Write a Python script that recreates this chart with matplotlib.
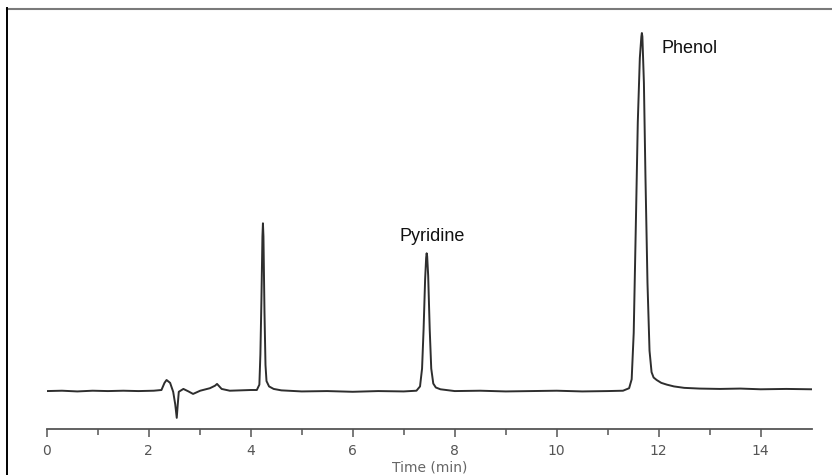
import numpy as np
import matplotlib
matplotlib.use("Agg")
import matplotlib.pyplot as plt
from matplotlib.lines import Line2D
from matplotlib.ticker import FixedLocator

# chromatogram trace (time in min, detector signal, phenol peak = 1)
front_t = [0.0, 0.3, 0.6, 0.9, 1.2, 1.5, 1.8, 2.1]
front_s = [-0.003, -0.002, -0.004, -0.002, -0.003, -0.002, -0.003, -0.002]

upset_t = [2.25, 2.31, 2.35, 2.42, 2.48, 2.52, 2.55, 2.57, 2.59, 2.68,
           2.78, 2.87, 3.01, 3.20, 3.30, 3.34, 3.43, 3.59, 3.8, 4.0]
upset_s = [0.0, 0.02, 0.028, 0.02, -0.005, -0.04, -0.078, -0.04, -0.005, 0.003,
           -0.004, -0.011, -0.002, 0.005, 0.012, 0.017, 0.003, -0.002, -0.001, 0.0]

peak1_t = [4.12, 4.17, 4.19, 4.21, 4.23, 4.24, 4.25, 4.27, 4.29, 4.31, 4.36, 4.45]
peak1_s = [0.0, 0.015, 0.10, 0.25, 0.43, 0.467, 0.43, 0.22, 0.07, 0.025, 0.01, 0.003]

mid1_t = [4.6, 5.0, 5.5, 6.0, 6.5, 7.0, 7.25]
mid1_s = [-0.001, -0.004, -0.003, -0.005, -0.003, -0.004, -0.002]

pyr_t = [7.32, 7.36, 7.39, 7.42, 7.44, 7.45, 7.46, 7.48, 7.51, 7.54, 7.58, 7.63, 7.72]
pyr_s = [0.01, 0.06, 0.17, 0.31, 0.37, 0.383, 0.375, 0.32, 0.17, 0.06, 0.018, 0.007, 0.002]

mid2_t = [8.0, 8.5, 9.0, 9.5, 10.0, 10.5, 11.0, 11.3]
mid2_s = [-0.003, -0.002, -0.004, -0.003, -0.002, -0.004, -0.003, -0.002]

phen_t = [11.42, 11.47, 11.51, 11.55, 11.59, 11.63, 11.66, 11.67, 11.68, 11.71, 11.74, 11.78,
          11.82, 11.86, 11.90, 11.96, 12.05, 12.16, 12.3, 12.5, 12.8]
phen_s = [0.005, 0.03, 0.16, 0.45, 0.75, 0.93, 0.99, 1.0, 0.99, 0.86, 0.6, 0.3,
          0.11, 0.05, 0.035, 0.028, 0.02, 0.015, 0.010, 0.006, 0.004]

tail_t = [13.2, 13.6, 14.0, 14.5, 15.0]
tail_s = [0.003, 0.004, 0.002, 0.003, 0.002]

labels = ["Pyridine", "Phenol"]


def main():
    t = np.concatenate([front_t, upset_t, peak1_t, mid1_t, pyr_t, mid2_t, phen_t, tail_t])
    s = np.concatenate([front_s, upset_s, peak1_s, mid1_s, pyr_s, mid2_s, phen_s, tail_s])

    fig = plt.figure(figsize=(8.32, 4.75), dpi=100)
    ax = fig.add_axes([46.7 / 832, 1 - 429 / 475, 765 / 832, 419 / 475])

    ax.plot(t, s, color="#2e2e2e", lw=1.4, solid_joinstyle="round")

    ax.set_xlim(0, 15)
    ax.set_ylim(-39 / 357, 380 / 357)
    for side in ["top", "right", "left"]:
        ax.spines[side].set_visible(False)
    ax.spines["bottom"].set_color("#555555")
    ax.spines["bottom"].set_linewidth(1.3)
    ax.set_yticks([])
    ax.set_xticks(np.arange(0, 15, 2))
    ax.xaxis.set_minor_locator(FixedLocator(np.arange(1, 15, 2)))
    ax.tick_params(axis="x", which="major", direction="out", length=5.5, width=1.1,
                   color="#555555", labelsize=10, labelcolor="#555555", pad=5)
    ax.tick_params(axis="x", which="minor", direction="out", length=4.5, width=1.1,
                   color="#555555")
    ax.set_xlabel("Time (min)", fontsize=10, color="#666666", labelpad=2)

    ax.text(7.555, 0.418, labels[0], fontsize=13, ha="center", va="baseline",
            family="Liberation Sans", color="#111111")
    ax.text(12.06, 0.943, labels[1], fontsize=13, ha="left", va="baseline",
            family="Liberation Sans", color="#111111")

    # picture frame: grey top rule and black left rule
    fig.add_artist(Line2D([7 / 832, 1], [1 - 9 / 475] * 2, color="#7a7a7a", lw=1.5,
                          transform=fig.transFigure))
    fig.add_artist(Line2D([7 / 832] * 2, [0, 1 - 8 / 475], color="black", lw=1.4,
                          transform=fig.transFigure))

    fig.savefig("out.png", dpi=100)


if __name__ == "__main__":
    main()
